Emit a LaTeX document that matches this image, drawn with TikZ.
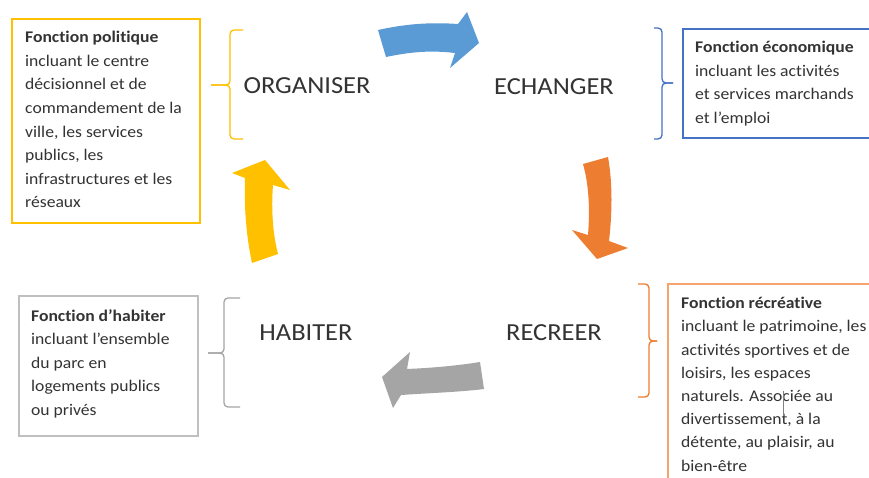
\documentclass[tikz,border=0pt]{standalone}
\usepackage{fontspec}
\setmainfont{Carlito}[Ligatures=NoCommon, FakeStretch=1.08]
\definecolor{cblue}{HTML}{5B9BD5}
\definecolor{cbluedk}{HTML}{4472C4}
\definecolor{corange}{HTML}{ED7D31}
\definecolor{corangebox}{HTML}{F4A46C}
\definecolor{cyellow}{HTML}{FFC000}
\definecolor{cgray}{HTML}{A5A5A5}
\definecolor{cgraybox}{HTML}{BFBFBF}
\definecolor{ctext}{HTML}{333333}
\begin{document}
\begin{tikzpicture}[x=1pt,y=-1pt,
  lbl/.style={font=\fontsize{24.5}{28}\selectfont, text=ctext, inner sep=0pt},
  desc/.style={font=\fontsize{16.3}{23.6}\selectfont, text=ctext, inner sep=0pt, align=left, anchor=north west},
  boxline/.style={line width=1.3pt},
  brace/.style={line width=1.3pt, rounded corners=4pt}]
\useasboundingbox (0,0) rectangle (869,477);
\clip (0,0) rectangle (869,477);
\fill[white] (0,0) rectangle (869,477);

% boxes
\draw[boxline, cyellow] (12,19) rectangle (200,223);
\draw[boxline, cbluedk] (683,29) rectangle (880,138);
\draw[boxline, corangebox] (668,284) rectangle (880,490);
\draw[boxline, cgraybox] (19,296) rectangle (198,436);

% descriptions
\node[desc] (tpol) at (25,31) {\textbf{Fonction politique}\\incluant le centre\\décisionnel et de\\commandement de la\\ville, les services\\publics, les\\infrastructures et les\\réseaux};
\node[desc] (teco) at (695,41) {\textbf{Fonction économique}\\incluant les activités\\et services marchands\\et l’emploi};
\node[desc, font=\fontsize{16.3}{23.2}\selectfont] (trec) at (681,297) {\textbf{Fonction récréative}\\incluant le patrimoine, les\\activités sportives et de\\loisirs, les espaces\\naturels. Associée au\\divertissement, à la\\détente, au plaisir, au\\bien-être};
\node[desc] (thab) at (31,309) {\textbf{Fonction d’habiter}\\incluant l’ensemble\\du parc en\\logements publics\\ou privés};
\draw[gray, line width=0.6pt] (783,391) -- (783,416);

% labels
\node[lbl] (org) at (307,86) {ORGANISER};
\node[lbl] (ech) at (554,87) {ECHANGER};
\node[lbl] (hab) at (306,333) {HABITER};
\node[lbl] (rec) at (554,333) {RECREER};

% braces
\draw[brace, cyellow] (243,30) -- (230,30) -- (230,85) -- (211,85);
\draw[brace, cyellow] (211,85) -- (230,85) -- (230,139) -- (243,139);
\draw[brace, cbluedk] (654,28) -- (662,28) -- (662,83) -- (673,83);
\draw[brace, cbluedk] (673,83) -- (662,83) -- (662,139) -- (654,139);
\draw[brace, corange] (638,284) -- (649,284) -- (649,341) -- (657,341);
\draw[brace, corange] (657,341) -- (649,341) -- (649,397) -- (638,397);
\draw[brace, cgray] (240,298) -- (224,298) -- (224,353) -- (208,353);
\draw[brace, cgray] (208,353) -- (224,353) -- (224,407) -- (240,407);

% curved arrows
\fill[cblue] (378,30) .. controls (405,24) and (430,22) .. (458,24) -- (467,12) -- (479,43) -- (450,68) -- (455,53) .. controls (430,50) and (410,52) .. (386,57) -- cycle;
\fill[corange] (583,164) -- (608,157) .. controls (613,185) and (612,215) .. (609,241) -- (628,248) -- (597,259) -- (572,230) -- (588,235) .. controls (590,210) and (589,185) .. (583,164) -- cycle;
\fill[cgray] (480,362) .. controls (455,366) and (430,368) .. (407,369) -- (410,352) -- (382,377) -- (393,408) -- (401,395) .. controls (430,393) and (460,392) .. (484,389) -- cycle;
\fill[cyellow] (252,263) .. controls (246,235) and (244,205) .. (245,178) -- (232,173) -- (265,160) -- (290,190) -- (273,185) .. controls (271,210) and (273,235) .. (278,254) -- cycle;
\end{tikzpicture}
\end{document}
